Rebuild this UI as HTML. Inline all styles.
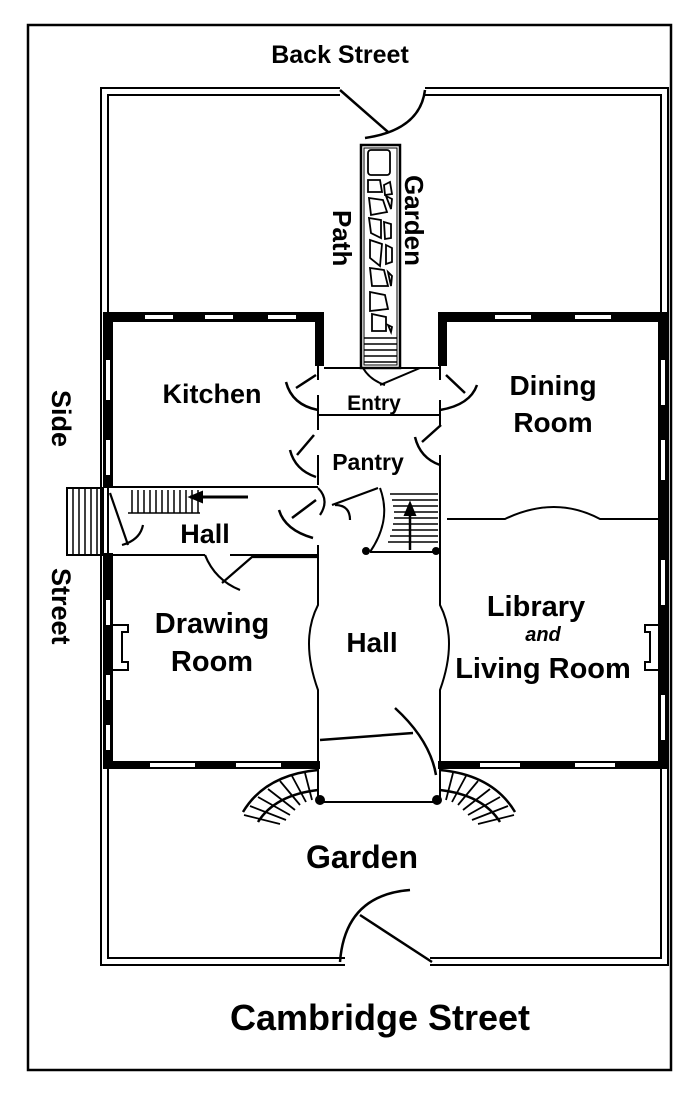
<!DOCTYPE html>
<html><head><meta charset="utf-8"><style>
html,body{margin:0;padding:0;background:#fff}
svg{display:block}
text{font-family:"Liberation Sans",sans-serif;fill:#000}
</style></head><body>
<svg width="700" height="1101" viewBox="0 0 700 1101" xmlns="http://www.w3.org/2000/svg">
<g fill="none" stroke="#000" stroke-width="2">
<!-- outer frame -->
<rect x="28" y="25" width="643" height="1045" stroke-width="2.5"/>
<!-- property double line -->
<path d="M340 88 H101 V965 H345 M430 965 H668 V88 H425"/>
<path d="M340 95 H108 V958 H345 M430 958 H661 V95 H425"/>
<!-- back gate -->
<path d="M340 90 L388 132" stroke-width="2.5"/>
<path d="M425 90 Q420 130 365 138" stroke-width="2.5"/>
<!-- front gate -->
<path d="M360 915 L432 962" stroke-width="2.5"/>
<path d="M340 962 Q345 895 410 890" stroke-width="2.5"/>
</g>
<!-- thick walls -->
<g fill="#000">
<rect x="103" y="312" width="220" height="10"/>
<rect x="315" y="312" width="9" height="54"/>
<rect x="438" y="312" width="230" height="10"/>
<rect x="438" y="312" width="9" height="54"/>
<rect x="103" y="312" width="10" height="176"/>
<rect x="103" y="553" width="10" height="215"/>
<rect x="658" y="312" width="10" height="456"/>
<rect x="103" y="761" width="217" height="8"/>
<rect x="438" y="761" width="230" height="8"/>
</g>
<!-- windows -->
<g fill="#fff">
<rect x="145" y="315" width="28" height="4"/><rect x="205" y="315" width="28" height="4"/><rect x="268" y="315" width="28" height="4"/>
<rect x="495" y="315" width="36" height="4"/><rect x="575" y="315" width="36" height="4"/>
<rect x="106" y="360" width="4" height="40"/><rect x="106" y="440" width="4" height="35"/>
<rect x="106" y="600" width="4" height="25"/><rect x="106" y="675" width="4" height="25"/><rect x="106" y="725" width="4" height="25"/>
<rect x="661" y="360" width="4" height="45"/><rect x="661" y="440" width="4" height="40"/>
<rect x="661" y="560" width="4" height="45"/><rect x="661" y="695" width="4" height="45"/>
<rect x="150" y="763" width="45" height="4"/><rect x="236" y="763" width="45" height="4"/>
<rect x="480" y="763" width="40" height="4"/><rect x="575" y="763" width="40" height="4"/>
</g>
<g fill="none" stroke="#000" stroke-width="2">
<!-- entry / pantry -->
<path d="M318 366 V380 M318 395 V415 H440 V400 M440 380 V366 M324 368 H440"/>
<path d="M318 415 V430 M318 455 V485 M440 415 V425 M440 455 V485"/>
<!-- side hall -->
<path d="M113 487 H318 M113 555 H205 M230 555 H318 V545"/>
<!-- central hall walls -->
<path d="M318 545 V605 Q300 640 318 690 V765"/>
<path d="M440 485 V605 Q458 640 440 690 V765"/>
<!-- library/dining wall -->
<path d="M447 519 H505 Q555 495 600 519 H658"/>
<!-- porch -->
<path d="M318 769 V802 H440 V769"/>
<!-- doors -->
<path d="M296 388 L316 375 M286 382 Q292 405 318 410" stroke-width="2.5"/>
<path d="M446 375 L465 393 M440 410 Q470 405 477 385" stroke-width="2.5"/>
<path d="M314 435 L297 455 M290 450 Q295 470 316 477" stroke-width="2.5"/>
<path d="M441 425 L422 442 M415 437 Q420 458 440 465" stroke-width="2.5"/>
<path d="M316 500 L292 518 M279 510 Q285 530 313 538" stroke-width="2.5"/>
<path d="M318 488 Q330 500 320 515 M332 505 L378 488 M335 505 Q350 505 350 520" stroke-width="2.2"/>
<path d="M110 493 L128 545 M122 545 Q140 540 143 525" stroke-width="2.2"/>
<path d="M205 555 Q215 580 240 590 M222 583 L252 557 H318" stroke-width="2.2"/>
<path d="M320 740 L413 733" stroke-width="2.5"/>
<path d="M395 708 Q430 740 436 775" stroke-width="2.5"/>
<!-- outside stairs left -->
<rect x="67" y="488" width="36" height="67"/>
<path d="M73 488V555M79 488V555M85 488V555M91 488V555M97 488V555" stroke-width="1.5"/>
<!-- inner side stairs -->
<path d="M128 513 H200 M132 490V513M138 490V513M144 490V513M150 490V513M156 490V513M162 490V513M168 490V513M174 490V513M180 490V513M186 490V513M192 490V513M198 490V513" stroke-width="1.5"/>
<path d="M190 497 H248" stroke-width="3"/>
<path d="M190 497 L202 492 L202 502 Z" fill="#000"/>
<!-- central stairs -->
<path d="M380 488 Q392 520 370 552 M370 552 H438"/>
<path d="M390 494H438M392 500H438M393 506H438M394 512H438M394 518H438M393 524H438M392 530H438M390 536H438M388 542H438" stroke-width="1.5"/>
<path d="M410 550 V507" stroke-width="2.5"/>
<path d="M410 503 L405 515 L415 515 Z" fill="#000"/>
<circle cx="366" cy="551" r="3" fill="#000"/><circle cx="436" cy="551" r="3" fill="#000"/>
<!-- fireplaces -->
<path d="M113 625 H128 V632 H122 V662 H128 V670 H113"/>
<path d="M658 625 H645 V632 H650 V662 H645 V670 H658"/>
<!-- porch steps -->
<path d="M318 770 Q265 775 243 812 M318 790 Q275 795 258 822" stroke-width="2.5"/>
<path d="M318 772L318 800M305 773L312 800M292 776L306 802M280 781L300 805M268 789L295 810M258 797L290 815M250 806L286 820M244 815L280 824" stroke-width="1.8"/>
<path d="M440 770 Q493 775 515 812 M440 790 Q483 795 500 822" stroke-width="2.5"/>
<path d="M440 772L440 800M453 773L446 800M466 776L452 802M478 781L458 805M490 789L463 810M500 797L468 815M508 806L472 820M514 815L478 824" stroke-width="1.8"/>
<circle cx="320" cy="800" r="4" fill="#000"/><circle cx="437" cy="800" r="4" fill="#000"/>
<!-- garden path -->
<rect x="361" y="145" width="39" height="223" stroke-width="2.5"/>
<rect x="364" y="148" width="33" height="217" stroke-width="1"/>
<g stroke-width="1.8">
<rect x="368" y="150" width="22" height="25" rx="3"/>
<path d="M368 180 h12 l2 12 h-14z M384 185 l6 -3 l2 12 l-7 1z M369 198 l14 2 l4 12 l-16 3z M386 196 l6 3 l-1 10z M369 218 l12 2 l0 18 l-10 -5z M384 222 l7 2 l0 14 l-6 1z M370 240 l12 4 l-2 22 l-10 -8z M386 245 l6 3 l0 14 l-6 2z M370 268 l14 2 l4 16 l-16 0z M388 272 l4 4 l-1 10z M370 292 l15 3 l3 14 l-18 2z M372 314 l14 3 l0 14 l-14 0z M388 325 l4 2 l-1 5z"/>
</g>
<path d="M364 338H397M364 344H397M364 350H397M364 356H397M364 362H397" stroke-width="1.5"/>
<path d="M363 368 Q370 380 385 385 M380 385 L420 368" stroke-width="2"/>
</g>
<!-- labels -->
<g font-weight="bold">
<text x="340" y="63" font-size="25" text-anchor="middle">Back Street</text>
<text x="380" y="1030" font-size="36" text-anchor="middle">Cambridge Street</text>
<text x="362" y="868" font-size="32" text-anchor="middle">Garden</text>
<text x="212" y="403" font-size="27" text-anchor="middle">Kitchen</text>
<text x="374" y="410" font-size="21" text-anchor="middle">Entry</text>
<text x="368" y="470" font-size="23" text-anchor="middle">Pantry</text>
<text x="553" y="395" font-size="28" text-anchor="middle">Dining</text>
<text x="553" y="432" font-size="28" text-anchor="middle">Room</text>
<text x="205" y="543" font-size="27" text-anchor="middle">Hall</text>
<text x="372" y="652" font-size="28" text-anchor="middle">Hall</text>
<text x="212" y="633" font-size="29" text-anchor="middle">Drawing</text>
<text x="212" y="671" font-size="29" text-anchor="middle">Room</text>
<text x="536" y="616" font-size="29" text-anchor="middle">Library</text>
<text x="543" y="641" font-size="20" font-style="italic" text-anchor="middle">and</text>
<text x="543" y="678" font-size="29" text-anchor="middle">Living Room</text>
<text transform="translate(52,390) rotate(90)" font-size="27">Side</text>
<text transform="translate(52,568) rotate(90)" font-size="27">Street</text>
<text transform="translate(405,175) rotate(90)" font-size="26">Garden</text>
<text transform="translate(333,210) rotate(90)" font-size="26">Path</text>
</g>
</svg>
</body></html>
